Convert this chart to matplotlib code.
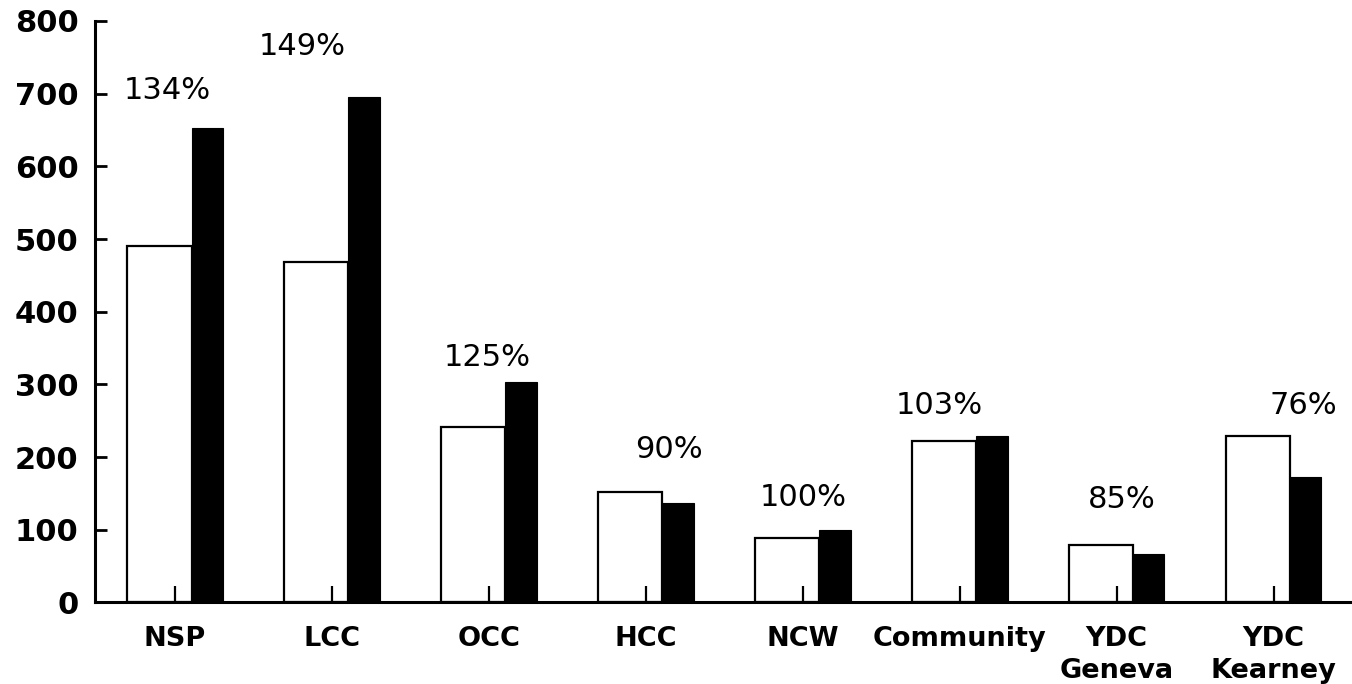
import matplotlib
matplotlib.use("Agg")
import matplotlib.pyplot as plt
import numpy as np

categories = ["NSP", "LCC", "OCC", "HCC", "NCW", "Community", "YDC\nGeneva", "YDC\nKearney"]
capacity = [490, 469, 242, 152, 89, 222, 79, 229]      # white bars
population = [653, 696, 303, 137, 100, 229, 67, 172]   # black bars
pct_labels = ["134%", "149%", "125%", "90%", "100%", "103%", "85%", "76%"]
y_ticks = [0, 100, 200, 300, 400, 500, 600, 700, 800]

# layout of the percentage labels (x offset from category, y in data units)
pct_dx = [-0.05, -0.19, -0.01, 0.15, 0.0, -0.13, 0.03, 0.19]
pct_y = [704, 765, 337, 210, 145, 271, 142, 271]

fig = plt.figure(figsize=(13.52, 6.84), dpi=100)
ax = fig.add_axes([0.0703, 0.1192, 0.9297, 0.9693 - 0.1192])

x = np.arange(len(categories))
w_white = 0.41
w_black = 0.20
ax.bar(x - 0.305, capacity, width=w_white, align="edge", facecolor="white",
       edgecolor="black", linewidth=1.6, zorder=1)
ax.bar(x + 0.105, population, width=w_black, align="edge", facecolor="black",
       edgecolor="black", linewidth=0.8, zorder=1.2)

for xi, dx, yv, lab in zip(x, pct_dx, pct_y, pct_labels):
    ax.text(xi + dx, yv, lab, ha="center", va="center", fontsize=22,
            family="DejaVu Sans", fontweight="medium", color="black")

ax.set_xlim(-0.51, 7.5)
ax.set_ylim(0, 800)
ax.set_yticks(y_ticks)
ax.set_yticklabels([str(v) for v in y_ticks], fontsize=22, fontweight="bold",
                   family="DejaVu Sans")
ax.set_xticks(x)
ax.set_xticklabels(categories, fontsize=19.5, fontweight="bold",
                   family="DejaVu Sans", linespacing=1.3, va="top")

for s in ["top", "right"]:
    ax.spines[s].set_visible(False)
for s in ["left", "bottom"]:
    ax.spines[s].set_linewidth(2.2)

ax.tick_params(axis="y", direction="in", length=8.5, width=2, pad=12)
ax.tick_params(axis="x", direction="in", length=11.5, width=1.6, pad=17)

fig.savefig("out.png", dpi=100, facecolor="white")
